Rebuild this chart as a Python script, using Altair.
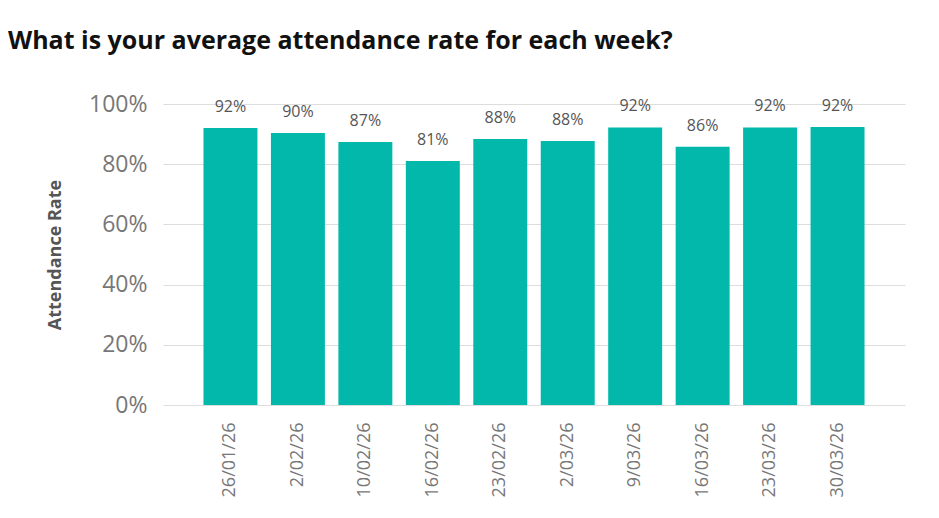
import altair as alt
import pandas as pd

weeks = ["26/01/26", "2/02/26", "10/02/26", "16/02/26", "23/02/26",
         "2/03/26", "9/03/26", "16/03/26", "23/03/26", "30/03/26"]
rates = [0.920, 0.904, 0.874, 0.811, 0.884, 0.877, 0.922, 0.858, 0.922, 0.924]

df = pd.DataFrame({"week": weeks, "rate": rates})

FONT = "Open Sans"

x = alt.X("week:N", sort=weeks, title=None,
          scale=alt.Scale(paddingInner=0.2, paddingOuter=0.6),
          axis=alt.Axis(labelAngle=-90, labelFontSize=18, labelColor="#777777",
                        labelFont=FONT, labelPadding=17, ticks=False, domain=False,
                        labelBaseline="middle", labelAlign="right"))
y = alt.Y("rate:Q", title="Attendance Rate",
          scale=alt.Scale(domain=[0, 1], nice=False),
          axis=alt.Axis(format=".0%", values=[0, 0.2, 0.4, 0.6, 0.8, 1.0],
                        labelFontSize=23, labelColor="#777777", labelFont=FONT,
                        labelPadding=16, ticks=False, domain=False,
                        grid=True, gridColor="#dddddd", gridWidth=1,
                        titleFont=FONT, titleFontSize=18, titleFontWeight="bold",
                        titleColor="#555555", titlePadding=24))

bars = alt.Chart(df).mark_bar(color="#01B8AA").encode(x=x, y=y)
labels = alt.Chart(df).mark_text(font=FONT, fontSize=16, color="#555555",
                                 baseline="middle", dy=-21).encode(
    x=alt.X("week:N", sort=weeks),
    y=alt.Y("rate:Q"),
    text=alt.Text("rate:Q", format=".0%"),
)

chart = (bars + labels).properties(
    width=742, height=301,
    autosize=alt.AutoSizeParams(type="none"),
    padding={"left": 155, "top": 96, "right": 20, "bottom": 100},
    background="white",
    title=alt.TitleParams(
        "What is your average attendance rate for each week?",
        anchor="start", frame="group", dx=-155, offset=39,
        font=FONT, fontSize=25, fontWeight="bold", color="#111111"),
).configure_view(stroke=None)

chart.save("out.html", embed_options={"renderer": "svg", "actions": False})
